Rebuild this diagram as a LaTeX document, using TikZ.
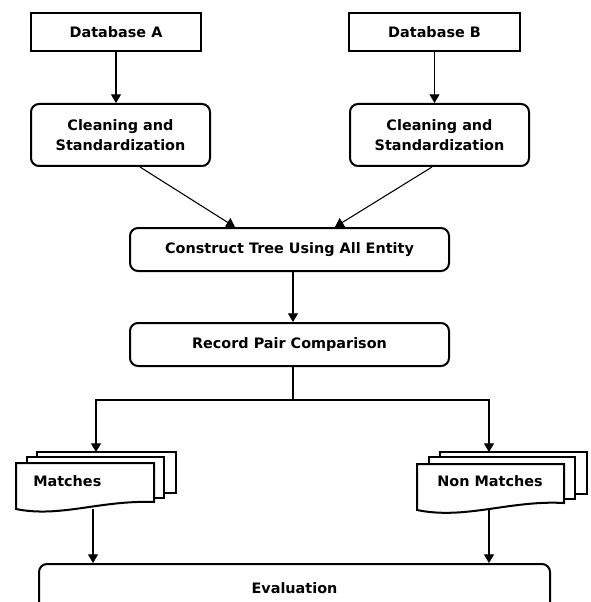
\documentclass[tikz,border=0pt]{standalone}
\usepackage{fontspec}
\setmainfont{DejaVu Sans}
\usetikzlibrary{arrows.meta}
\begin{document}
\begin{tikzpicture}[x=0.75pt,y=-0.75pt,
  every node/.style={font=\fontsize{10.8}{15}\selectfont\bfseries, inner sep=0pt},
  plainbox/.style={draw, line width=1.8pt, rectangle},
  rbox/.style={draw, line width=1.5pt, rounded corners=6pt, align=center},
  arr/.style={line width=0.8pt, -{Triangle[width=7.5pt,length=6.5pt]}},
  sheet/.style={draw, line width=1.5pt, fill=white}]
\useasboundingbox (0,0) rectangle (591,602);
\clip (0,0) rectangle (591,602);

% sources
\node[plainbox, minimum width=127.5pt, minimum height=28.5pt] (dbA) at (116,32) {Database A};
\node[plainbox, minimum width=128.25pt, minimum height=28.5pt] (dbB) at (434.5,32) {Database B};

% cleaning steps
\node[rbox, minimum width=134.25pt, minimum height=46.5pt] (clA) at (120.5,135) {Cleaning and\\Standardization};
\node[rbox, minimum width=134.25pt, minimum height=46.5pt] (clB) at (439.5,135) {Cleaning and\\Standardization};

% processing
\node[rbox, minimum width=239.25pt, minimum height=32.25pt] (ct) at (289.5,249.5) {Construct Tree Using All Entity};
\node[rbox, minimum width=239.25pt, minimum height=32.25pt] (rp) at (289.5,344.5) {Record Pair Comparison};

% evaluation (runs past the lower edge)
\node[rbox, minimum width=383.25pt, minimum height=36pt] (ev) at (294.5,588) {Evaluation};

% stacked documents: matches
\draw[sheet] (37,452) rectangle (176,493);
\draw[sheet] (27,457) rectangle (164,498);
\draw[sheet] (16,463) -- (154,463) -- (154,502)
  .. controls (100,500) and (60,518) .. (16,509) -- cycle;
\node[anchor=west] (mT) at (33,481) {Matches};

% stacked documents: non matches
\draw[sheet] (440,452) rectangle (587,494);
\draw[sheet] (429,457) rectangle (575,499);
\draw[sheet] (417,464) -- (564,464) -- (564,503)
  .. controls (510,500) and (465,520) .. (417,510) -- cycle;
\node (nT) at (490,481) {Non Matches};

\coordinate (mIn) at (96,452);
\coordinate (nIn) at (489,452);
\coordinate (mOut) at (93,509);
\coordinate (nOut) at (489,510);

% connectors
\draw[arr] (dbA.south) -- (dbA.south |- clA.north);
\draw[arr] (dbB.south) -- (dbB.south |- clB.north);
\draw[arr] ([xshift=14.6pt]clA.south) -- ([xshift=-40.9pt]ct.north);
\draw[arr] ([xshift=-5.6pt]clB.south) -- ([xshift=34.1pt]ct.north);
\draw[arr] ([xshift=2.6pt]ct.south) -- ([xshift=2.6pt]rp.north);
\draw[line width=0.8pt] ([xshift=2.6pt]rp.south) -- ++(0,33) coordinate (split);
\draw[arr] (split) -| (mIn);
\draw[arr] (split) -| (nIn);
\draw[arr] (mOut) -- (mOut |- ev.north);
\draw[arr] (nOut) -- (nOut |- ev.north);
\end{tikzpicture}
\end{document}
